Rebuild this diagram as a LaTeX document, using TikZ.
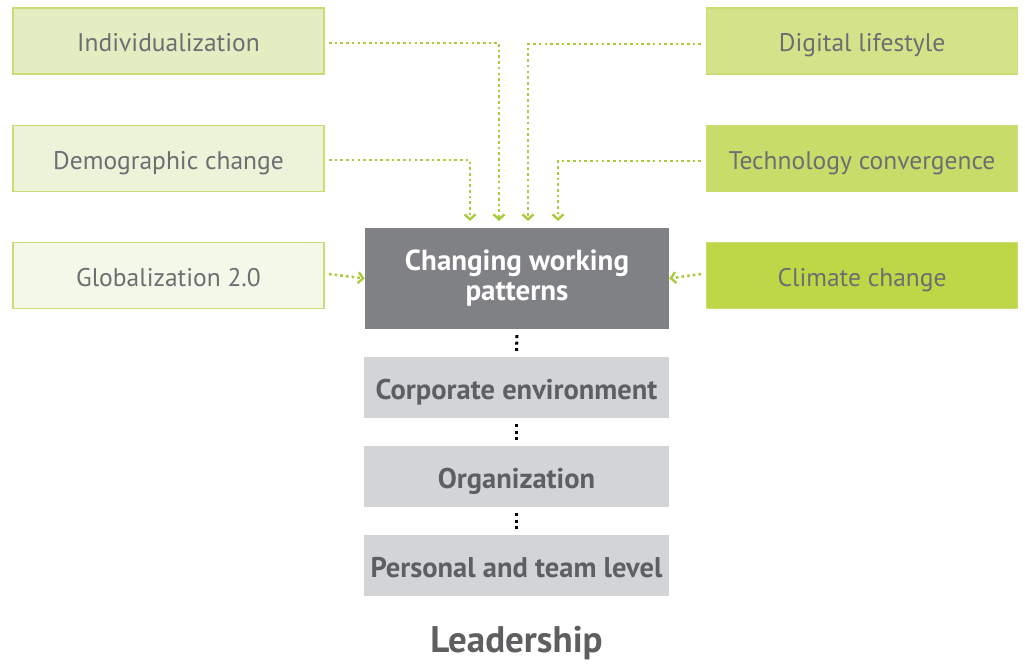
\documentclass[tikz,border=0pt]{standalone}
\usepackage{fontspec}
\setmainfont{PT Sans}
\usetikzlibrary{arrows.meta}
\definecolor{txt}{HTML}{6D6E71}
\definecolor{txtb}{HTML}{5E5F61}
\definecolor{gA}{HTML}{E4EDC2}
\definecolor{gB}{HTML}{EDF3D8}
\definecolor{gC}{HTML}{F4F8E8}
\definecolor{gD}{HTML}{D4E38A}
\definecolor{gE}{HTML}{C8DC6A}
\definecolor{gF}{HTML}{BDD746}
\definecolor{gbord}{HTML}{C9DD73}
\definecolor{dk}{HTML}{808184}
\definecolor{lt}{HTML}{D3D4D6}
\definecolor{ln}{HTML}{AACB3B}
\tikzset{
  fbox/.style={rectangle, draw=gbord, line width=1.2pt, minimum width=311pt, minimum height=66pt, inner sep=0pt, text height=21.5pt, text depth=0pt, text=txt, font=\fontsize{25.5}{28}\selectfont},
  gbox/.style={rectangle, fill=lt, minimum width=305pt, minimum height=61pt, inner sep=0pt, text height=24pt, text depth=0pt, text=txtb, font=\bfseries\fontsize{28.5}{31}\selectfont},
  conn/.style={draw=ln, line width=2.6pt, dash pattern=on 2.6pt off 3.1pt, -{Straight Barb[length=5pt,width=11pt,line width=2.4pt]}},
  vdots/.style={draw=black, line width=3pt, dash pattern=on 3pt off 3.5pt}
}
\begin{document}
\begin{tikzpicture}[x=1pt,y=-1pt]
\useasboundingbox (0,0) rectangle (1025,665);
\node[fbox, fill=gA] (ind) at (168.5,41) {Individualization};
\node[fbox, fill=gB] (dem) at (168.5,158.5) {Demographic change};
\node[fbox, fill=gC] (glo) at (168.5,275.5) {Globalization 2.0};
\node[fbox, fill=gD] (dig) at (862,41) {Digital lifestyle};
\node[fbox, fill=gE] (tec) at (862,158.5) {Technology convergence};
\node[fbox, fill=gF] (cli) at (862,275.5) {Climate change};
\node[rectangle, fill=dk, minimum width=304pt, minimum height=101pt, inner sep=0pt, text=white, align=center, font=\bfseries\fontsize{29}{30}\selectfont] (cwp) at (517,278.5) {Changing working\\patterns};
\node[gbox] (cor) at (516.5,387.5) {Corporate environment};
\node[gbox] (org) at (516.5,476.5) {Organization};
\node[gbox] (per) at (516.5,565.5) {Personal and team level};
\node[text=txtb, anchor=base, inner sep=0pt, font=\bfseries\fontsize{37}{40}\selectfont] (lead) at (516.5,652) {Leadership};
\coordinate (i0) at (329,43);
\coordinate (d0) at (329,160);
\coordinate (g0) at (329,274);
\coordinate (di0) at (701,44);
\coordinate (t0) at (701,161);
\coordinate (c0) at (701,274);
\draw[conn] (i0) -| (499,221);
\draw[conn] (d0) -| (470,221);
\draw[conn] (di0) -| (528,221);
\draw[conn] (t0) -| (558,221);
\draw[conn] (g0) -- (cwp.west);
\draw[conn] (c0) -- (cwp.east);
\draw[vdots] ([yshift=-6pt]cwp.south) -- ([yshift=6pt]cor.north);
\draw[vdots] ([yshift=-6pt]cor.south) -- ([yshift=6pt]org.north);
\draw[vdots] ([yshift=-6pt]org.south) -- ([yshift=6pt]per.north);
\end{tikzpicture}
\end{document}
